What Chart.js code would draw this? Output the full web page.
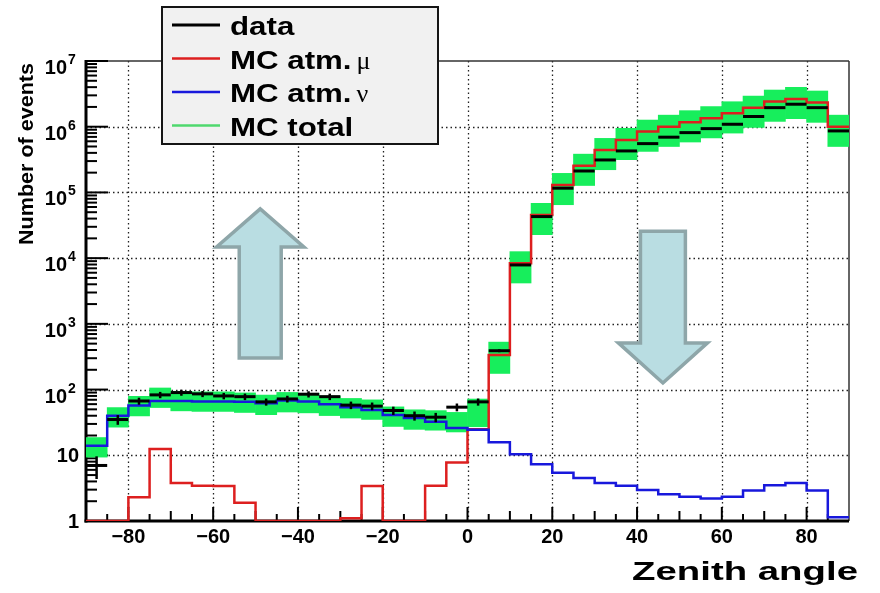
<!DOCTYPE html>
<html>
<head>
<meta charset="utf-8">
<title>Zenith angle</title>
<script src="https://cdn.jsdelivr.net/npm/chart.js@4.4.1/dist/chart.umd.min.js"></script>
<style>
	body { margin: 0; background: #fff; }
	canvas { display: block; }
</style>
</head>
<body>
<canvas id="zenith" width="880" height="593"></canvas>
<script>
// 5 degree bins, lower edges
var binEdges = [-90,-85,-80,-75,-70,-65,-60,-55,-50,-45,-40,-35,-30,-25,-20,-15,-10,-5,
                0,5,10,15,20,25,30,35,40,45,50,55,60,65,70,75,80,85];
var binWidth = 5;

var dataCounts = [7,35,67,83,90,86,80,78,65,72,85,78,58,56,48,40,38,54,
                  65,390,7880,42900,116000,212000,312000,428000,553000,693000,813000,935000,
                  1090000,1430000,1950000,2200000,1950000,863000];
var mcMu = [0,0,2.3,12.5,3.8,3.45,3.4,1.9,0,0,0,0,1.1,3.4,0,0,3.45,7.8,
            25,336,8360,45500,130000,255000,443000,630000,842000,1000000,1170000,1350000,
            1600000,1950000,2410000,2650000,2330000,1000000];
var mcNu = [14,40,57,67,67,66,66,65,62,68,66,60,54,49,41,37,32.5,26,
            24.5,15.8,10.4,7.3,5.4,4.5,3.8,3.45,2.97,2.55,2.34,2.2,
            2.34,2.9,3.5,3.8,2.9,1.14];
// relative half height of the MC total band
var mcErrFrac = [0.33,0.33,0.33,0.33,0.33,0.33,0.33,0.33,0.33,0.33,0.33,0.33,0.33,0.33,0.33,0.33,0.33,0.33,
                 0.45,0.5,0.5,0.5,0.5,0.5,0.5,0.5,0.5,0.5,0.5,0.5,0.5,0.5,0.5,0.5,0.5,0.5];

var xTicks = [-80,-60,-40,-20,0,20,40,60,80];
var yDecades = [1,10,100,1000,10000,100000,1000000,10000000];
var legendText = ['data','MC atm.','MC atm.','MC total'];
var legendGreek = ['','\u03bc','\u03bd',''];
var legendColors = ['#000000','#dd1f1f','#1818dc','#4fd86e'];

var FONT = '"Liberation Sans", Arial, sans-serif';

function stepPoints(vals) {
	var pts = [];
	for (var i = 0; i < vals.length; i++) {
		pts.push({x: binEdges[i], y: Math.max(vals[i], 1)});
	}
	pts.push({x: binEdges[binEdges.length - 1] + binWidth, y: Math.max(vals[vals.length - 1], 1)});
	return pts;
}

var mcTotal = mcMu.map(function(v, i){ return v + mcNu[i]; });
var band = mcTotal.map(function(t, i){
	return {x: binEdges[i] + binWidth / 2, y: [t * (1 - mcErrFrac[i]), t * (1 + mcErrFrac[i])]};
});
var dataPoints = dataCounts.map(function(n, i){ return {x: binEdges[i] + binWidth / 2, y: n}; });

// the two big arrows, in angle / log10(events)
var arrows = [
	{x: -48.9, head: 10.3, shaft: 4.95, tip: 4.75, neck: 4.17, tail: 2.48},
	{x: 46.1, head: 10.5, shaft: 5.3, tip: 2.1, neck: 2.71, tail: 4.41}
];

function seg(ctx, x1, y1, x2, y2) {
	ctx.beginPath();
	ctx.moveTo(x1, y1);
	ctx.lineTo(x2, y2);
	ctx.stroke();
}

function stretched(ctx, text, font, x, y, sx, align) {
	ctx.save();
	ctx.font = font;
	var w = ctx.measureText(text).width * sx;
	var x0 = align === 'right' ? x - w : (align === 'center' ? x - w / 2 : x);
	ctx.translate(x0, y);
	ctx.scale(sx, 1);
	ctx.textAlign = 'left';
	ctx.fillText(text, 0, 0);
	ctx.restore();
	return w;
}

var decor = {
	id: 'decor',
	beforeDatasetsDraw: function(chart) {
		var ctx = chart.ctx, a = chart.chartArea, xs = chart.scales.x, ys = chart.scales.y;
		ctx.save();

		// dotted grid
		ctx.strokeStyle = '#222';
		ctx.lineWidth = 1.3;
		ctx.setLineDash([1.5, 3]);
		xTicks.forEach(function(v){
			var px = Math.round(xs.getPixelForValue(v)) + 0.5;
			seg(ctx, px, a.top, px, a.bottom);
		});
		yDecades.slice(1, -1).forEach(function(v){
			var py = Math.round(ys.getPixelForValue(v)) + 0.5;
			seg(ctx, a.left, py, a.right, py);
		});
		ctx.setLineDash([]);

		// frame
		ctx.strokeStyle = '#333';
		ctx.lineWidth = 1.5;
		seg(ctx, a.left, a.top, a.right, a.top);
		seg(ctx, a.right, a.top, a.right, a.bottom);

		// tick marks
		ctx.strokeStyle = '#000';
		ctx.lineWidth = 2;
		for (var d = 0; d < 7; d++) {
			for (var k = 1; k < 10; k++) {
				var py = ys.getPixelForValue(k * Math.pow(10, d));
				seg(ctx, a.left, py, a.left + (k === 1 ? 22 : 11), py);
			}
		}
		seg(ctx, a.left, a.top, a.left + 22, a.top);
		for (var x = -85; x < 90; x += 5) {
			var px = xs.getPixelForValue(x);
			var len = (x % 20 === 0) ? 14 : ((x % 10 === 0) ? 10 : 7);
			seg(ctx, px, a.bottom, px, a.bottom - len);
		}

		// axes
		ctx.lineWidth = 3;
		seg(ctx, a.left, a.top - 1, a.left, a.bottom + 1.5);
		seg(ctx, a.left - 1.5, a.bottom, a.right, a.bottom);

		// arrows
		ctx.fillStyle = '#b9dde2';
		ctx.strokeStyle = '#8ea6a9';
		ctx.lineWidth = 3.5;
		ctx.lineJoin = 'miter';
		arrows.forEach(function(ar){
			var X = function(dx){ return xs.getPixelForValue(ar.x + dx); };
			var Y = function(e){ return ys.getPixelForValue(Math.pow(10, e)); };
			ctx.beginPath();
			ctx.moveTo(X(-ar.shaft), Y(ar.tail));
			ctx.lineTo(X(-ar.shaft), Y(ar.neck));
			ctx.lineTo(X(-ar.head), Y(ar.neck));
			ctx.lineTo(X(0), Y(ar.tip));
			ctx.lineTo(X(ar.head), Y(ar.neck));
			ctx.lineTo(X(ar.shaft), Y(ar.neck));
			ctx.lineTo(X(ar.shaft), Y(ar.tail));
			ctx.closePath();
			ctx.fill();
			ctx.stroke();
		});
		ctx.restore();
	},
	afterDatasetsDraw: function(chart) {
		// data points with error bars
		var ctx = chart.ctx, xs = chart.scales.x, ys = chart.scales.y;
		ctx.save();
		ctx.strokeStyle = '#000';
		dataCounts.forEach(function(n, i){
			var xl = xs.getPixelForValue(binEdges[i]);
			var xr = xs.getPixelForValue(binEdges[i] + binWidth);
			var xc = xs.getPixelForValue(binEdges[i] + binWidth / 2);
			var py = ys.getPixelForValue(n);
			var s = Math.sqrt(n);
			ctx.lineWidth = 3;
			seg(ctx, xl, py, xr, py);
			ctx.lineWidth = 2.5;
			seg(ctx, xc, ys.getPixelForValue(n + s), xc, ys.getPixelForValue(Math.max(n - s, 1)));
		});
		ctx.restore();
	},
	afterDraw: function(chart) {
		var ctx = chart.ctx, a = chart.chartArea, ys = chart.scales.y;
		ctx.save();
		ctx.fillStyle = '#000';

		// y tick labels 1, 10, 10^2 ...
		yDecades.forEach(function(v){
			var py = ys.getPixelForValue(v);
			var e = Math.round(Math.log10(v));
			if (e < 2) {
				ctx.font = 'bold 20px ' + FONT;
				ctx.textAlign = 'right';
				ctx.textBaseline = 'middle';
				ctx.fillText(String(v), 79, py + 1);
			} else {
				ctx.textBaseline = 'alphabetic';
				ctx.font = 'bold 20px ' + FONT;
				ctx.textAlign = 'right';
				ctx.fillText('10', 67, py + 13);
				ctx.font = 'bold 14px ' + FONT;
				ctx.textAlign = 'left';
				ctx.fillText(String(e), 68, py + 3);
			}
		});

		// axis titles
		ctx.textBaseline = 'alphabetic';
		ctx.font = 'bold 26px ' + FONT;
		var zw = ctx.measureText('Zenith angle').width;
		stretched(ctx, 'Zenith angle', 'bold 26px ' + FONT, 632, 580, 226 / zw, 'left');

		ctx.save();
		ctx.translate(33, 154);
		ctx.rotate(-Math.PI / 2);
		ctx.font = 'bold 21px ' + FONT;
		var nw = ctx.measureText('Number of events').width;
		stretched(ctx, 'Number of events', 'bold 21px ' + FONT, 0, 0, 182 / nw, 'center');
		ctx.restore();

		// legend box
		ctx.fillStyle = '#f1f1f1';
		ctx.fillRect(162, 7, 276, 137);
		ctx.strokeStyle = '#151515';
		ctx.lineWidth = 2;
		ctx.strokeRect(162, 7, 276, 137);
		var rowY = [35, 68.5, 102, 135.5];
		legendText.forEach(function(t, i){
			var ly = rowY[i] - 10;
			ctx.strokeStyle = legendColors[i];
			ctx.lineWidth = i === 0 ? 3 : 2.5;
			seg(ctx, 172, ly, 220, ly);
			ctx.fillStyle = '#000';
			ctx.textBaseline = 'alphabetic';
			var w = stretched(ctx, t, 'bold 25px ' + FONT, 230, rowY[i], 1.25, 'left');
			if (legendGreek[i]) {
				ctx.font = '26px "Liberation Serif", serif';
				ctx.textAlign = 'left';
				ctx.fillText(legendGreek[i], 230 + w + 5, rowY[i]);
			}
		});
		ctx.restore();
	}
};

new Chart(document.getElementById('zenith'), {
	data: {
		datasets: [
			{
				type: 'bar', label: 'MC total', data: band, order: 3,
				backgroundColor: '#17ee5c', borderWidth: 0,
				barPercentage: 1, categoryPercentage: 1
			},
			{
				type: 'line', label: 'MC atm. mu', data: stepPoints(mcMu), order: 2,
				borderColor: '#dd1f1f', borderWidth: 2.5, pointRadius: 0, stepped: 'before', fill: false
			},
			{
				type: 'line', label: 'MC atm. nu', data: stepPoints(mcNu), order: 1,
				borderColor: '#1818dc', borderWidth: 2.5, pointRadius: 0, stepped: 'before', fill: false
			},
			{
				type: 'scatter', label: 'data', data: dataPoints, order: 0,
				pointRadius: 0, showLine: false
			}
		]
	},
	options: {
		responsive: false,
		animation: false,
		layout: { padding: { top: 61, right: 31, left: 0, bottom: 0 } },
		plugins: { legend: { display: false }, tooltip: { enabled: false } },
		scales: {
			x: {
				type: 'linear', min: -90, max: 90, offset: false,
				grid: { display: false, drawTicks: false },
				border: { display: false },
				afterBuildTicks: function(s){ s.ticks = xTicks.map(function(v){ return {value: v}; }); },
				ticks: {
					autoSkip: false, maxRotation: 0, padding: 4, color: '#000',
					font: { family: FONT, size: 20, weight: 'bold' },
					callback: function(v){ return v < 0 ? '\u2212' + Math.abs(v) : String(v); }
				},
				afterFit: function(s){ s.height = 72; }
			},
			y: {
				type: 'logarithmic', min: 1, max: 10000000,
				grid: { display: false, drawTicks: false },
				border: { display: false },
				ticks: { display: false },
				afterFit: function(s){ s.width = 86; }
			}
		}
	},
	plugins: [decor]
});
</script>
</body>
</html>
